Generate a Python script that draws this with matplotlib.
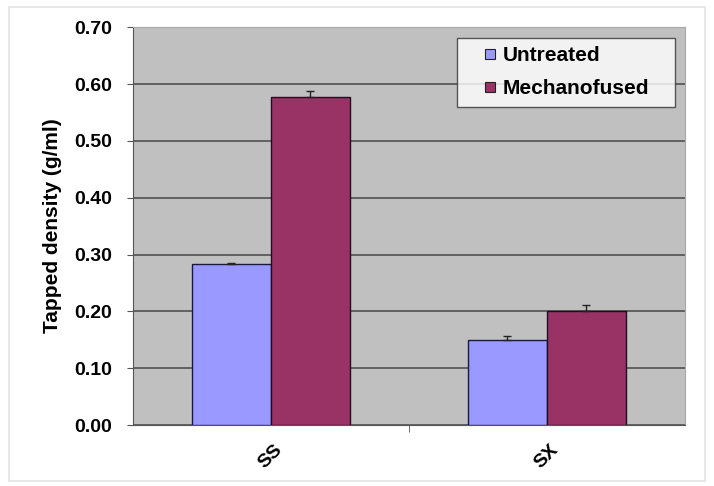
import matplotlib
matplotlib.use("Agg")
import matplotlib.pyplot as plt
import numpy as np
from matplotlib.patches import Rectangle
from matplotlib.lines import Line2D

categories = ["SS", "SX"]
untreated = [0.283, 0.150]
untreated_err = [0.002, 0.007]
mechanofused = [0.577, 0.201]
mechanofused_err = [0.010, 0.010]
yticks = [0.0, 0.1, 0.2, 0.3, 0.4, 0.5, 0.6, 0.7]
series_names = ["Untreated", "Mechanofused"]
colors = ["#9999ff", "#993366"]

plt.rcParams['font.family'] = ['Liberation Sans', 'DejaVu Sans']
plt.rcParams['font.weight'] = 'bold'

fig = plt.figure(figsize=(7.14, 4.86), dpi=100)
fig.patch.set_facecolor('white')
fig.add_artist(Rectangle((0.012, 0.01), 0.976, 0.975, transform=fig.transFigure,
                         fill=False, edgecolor='#e4e4e4', linewidth=1.2))

ax = fig.add_axes([0.186, 0.1255, 0.773, 0.8185])
ax.set_facecolor('#c0c0c0')

x = np.arange(len(categories))
w = 0.286
ekw = dict(ecolor='#222222', capsize=3, elinewidth=1, capthick=1)
ax.bar(x - w/2, untreated, w, color=colors[0], edgecolor='#1a1a40', linewidth=1.0,
       yerr=[np.zeros(len(untreated)), untreated_err], error_kw=ekw, zorder=3)
ax.bar(x + w/2, mechanofused, w, color=colors[1], edgecolor='#1a1020', linewidth=1.0,
       yerr=[np.zeros(len(mechanofused)), mechanofused_err], error_kw=ekw, zorder=3)

ax.set_xlim(-0.5, 1.5)
ax.set_ylim(0, 0.70)
ax.set_yticks(yticks)
ax.set_yticklabels([f"{v:.2f}" for v in yticks], fontsize=14, fontweight='bold')
ax.yaxis.grid(True, color='#5a5a5a', linewidth=1.3, zorder=0)
ax.set_axisbelow(True)

ax.set_xticks(x)
ax.set_xticklabels(categories, rotation=45, fontsize=14, fontweight='bold')
ax.tick_params(axis='x', length=0, pad=12)
ax.set_xticks([0.5], minor=True)
ax.tick_params(axis='x', which='minor', length=5, color='#555555')
ax.tick_params(axis='y', length=4, color='#555555', pad=11)

for s in ['top', 'right']:
    ax.spines[s].set_color('#a8a8a8')
for s in ['left', 'bottom']:
    ax.spines[s].set_color('#555555')

ax.set_ylabel("Tapped density (g/ml)", fontsize=15, fontweight='bold', labelpad=9)

handles = [Line2D([], [], linestyle='none', marker='s', markersize=7,
                  markerfacecolor=c, markeredgecolor='#222222', markeredgewidth=0.8)
           for c in colors]
leg = ax.legend(handles, series_names, loc='upper left',
                bbox_to_anchor=(0.5874, 0.5, 0.395, 0.473), mode='expand',
                fontsize=15, frameon=True, fancybox=False, edgecolor='#333333',
                handlelength=2.4, handletextpad=-0.6, borderpad=0.4,
                labelspacing=0.68, borderaxespad=0)
leg.get_frame().set_linewidth(1.0)
leg.get_frame().set_facecolor('white')

fig.savefig("out.png", dpi=100)
